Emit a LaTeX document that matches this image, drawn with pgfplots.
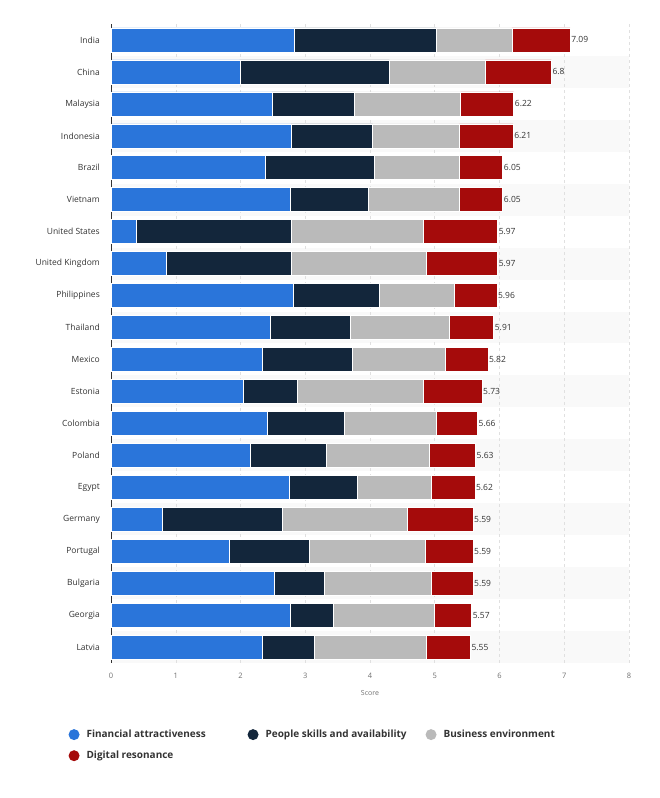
\documentclass[border=0pt]{standalone}
\usepackage{pgfplots}
\pgfplotsset{compat=1.18}
\usepackage{pgfplotstable}
\usepackage{fontspec}
\setmainfont{Open Sans}
\definecolor{cfin}{HTML}{2A75DA}
\definecolor{cppl}{HTML}{13263B}
\definecolor{cbus}{HTML}{BABABA}
\definecolor{cdig}{HTML}{A50B0B}
\definecolor{stripe}{HTML}{F9F9F9}
\definecolor{lbl}{HTML}{333333}
\definecolor{tcl}{HTML}{707070}

\pgfplotstableread{
y fin ppl bus dig total
0 2.83 2.19 1.17 0.90 7.09
1 1.99 2.31 1.48 1.02 6.8
2 2.49 1.26 1.65 0.82 6.22
3 2.78 1.26 1.34 0.83 6.21
4 2.38 1.68 1.32 0.67 6.05
5 2.77 1.20 1.41 0.67 6.05
6 0.39 2.40 2.04 1.14 5.97
7 0.85 1.93 2.09 1.10 5.97
8 2.82 1.32 1.16 0.66 5.96
9 2.46 1.24 1.53 0.68 5.91
10 2.33 1.39 1.44 0.66 5.82
11 2.04 0.83 1.96 0.90 5.73
12 2.42 1.19 1.42 0.63 5.66
13 2.15 1.18 1.59 0.71 5.63
14 2.75 1.06 1.14 0.67 5.62
15 0.79 1.85 1.93 1.02 5.59
16 1.83 1.23 1.80 0.73 5.59
17 2.52 0.77 1.65 0.65 5.59
18 2.77 0.66 1.57 0.57 5.57
19 2.33 0.81 1.73 0.68 5.55
}\datatable

\begin{document}
\begin{tikzpicture}[x=1pt,y=1pt]
\useasboundingbox (0,0) rectangle (659,798);
\foreach \i in {1,3,...,19} {
  \fill[stripe] (111,{774-31.95*(\i+1)}) rectangle (629,{774-31.95*\i});
}
\begin{axis}[
  at={(111pt,135pt)}, anchor=south west,
  scale only axis,
  width=518pt, height=639pt,
  xbar stacked,
  bar width=24pt,
  xmin=0, xmax=8,
  ymin=-0.5, ymax=19.5,
  y dir=reverse,
  xtick={0,1,...,8},
  ytick={0,1,...,19},
  yticklabels={India,China,Malaysia,Indonesia,Brazil,Vietnam,United States,United Kingdom,Philippines,Thailand,Mexico,Estonia,Colombia,Poland,Egypt,Germany,Portugal,Bulgaria,Georgia,Latvia},
  major tick length=0pt,
  axis x line*=bottom,
  axis y line*=left,
  x axis line style={draw=none},
  y axis line style={draw=lbl, line width=0.8pt},
  xmajorgrids,
  grid style={dashed, color=black!12, line width=0.5pt},
  yticklabel style={font=\fontsize{8.5}{10}\selectfont, text=lbl, inner sep=0pt, anchor=east, xshift=-11pt},
  xticklabel style={font=\fontsize{7.5}{9}\selectfont, text=tcl, inner sep=0pt, anchor=north, yshift=-10pt},
  /pgf/number format/assume math mode=true,
  xlabel={Score},
  every axis x label/.style={at={(axis description cs:0.5,0)}, anchor=north, yshift=-27pt, inner sep=0pt, font=\fontsize{7}{8}\selectfont, text=tcl},
  legend columns=3,
  legend cell align=left,
  legend style={at={(axis description cs:-0.0823,-0.1015)}, anchor=north west, draw=none, fill=none,
    font=\bfseries\fontsize{10}{12}\selectfont, text=lbl,
    /tikz/every even column/.append style={column sep=0pt},
    /tikz/every odd column/.append style={column sep=5pt},
    row sep=8pt, inner sep=0pt},
  legend image code/.code={\fill[#1,draw=none] (5pt,0pt) circle (5.5pt);},
]
\addplot[fill=cfin, draw=white, line width=0.6pt] table[x=fin, y=y] {\datatable};
\addlegendentry{\makebox[159pt][l]{Financial attractiveness}}
\addplot[fill=cppl, draw=white, line width=0.6pt] table[x=ppl, y=y] {\datatable};
\addlegendentry{\makebox[158pt][l]{People skills and availability}}
\addplot[fill=cbus, draw=white, line width=0.6pt] table[x=bus, y=y] {\datatable};
\addlegendentry{Business environment}
\addplot[fill=cdig, draw=white, line width=0.6pt] table[x=dig, y=y] {\datatable};
\addlegendentry{Digital resonance}
\end{axis}
\begin{axis}[
  at={(111pt,135pt)}, anchor=south west,
  scale only axis,
  width=518pt, height=639pt,
  xmin=0, xmax=8,
  ymin=-0.5, ymax=19.5,
  y dir=reverse,
  hide axis,
  clip=false,
]
\addplot[draw=none, mark=none,
  point meta=explicit symbolic,
  nodes near coords={\pgfplotspointmeta},
  every node near coord/.style={anchor=west, font=\fontsize{8.5}{10}\selectfont, text=lbl, inner sep=1pt}
] table[x=total, y=y, meta=total] {\datatable};
\end{axis}
\end{tikzpicture}
\end{document}
